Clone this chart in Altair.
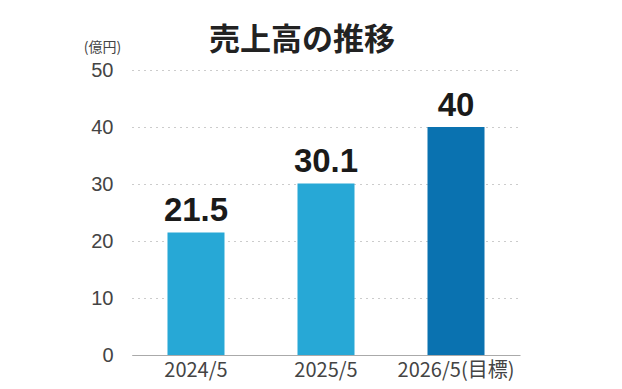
import altair as alt
import pandas as pd

periods = ["2024/5", "2025/5", "2026/5(目標)"]
sales = [21.5, 30.1, 40]
labels = ["21.5", "30.1", "40"]
kinds = ["実績", "実績", "目標"]
chart_title = ["売上高の推移"]

df = pd.DataFrame({"period": periods, "sales": sales, "label": labels, "kind": kinds})
tdf = pd.DataFrame({"t": chart_title})

x = alt.X("period:N", sort=periods, title=None,
          scale=alt.Scale(paddingInner=0.5615, paddingOuter=0.273),
          axis=alt.Axis(labelAngle=0, labelFontSize=20, labelColor="#444",
                        labelFont="Noto Sans CJK JP", labelPadding=5,
                        ticks=False, domainColor="#aaa", domainWidth=1.2))
y = alt.Y("sales:Q", title="(億円)",
          scale=alt.Scale(domain=[0, 50]),
          axis=alt.Axis(values=[0, 10, 20, 30, 40, 50], labelFontSize=20,
                        labelColor="#444", labelFont="Liberation Sans",
                        labelPadding=19, ticks=False, domain=False,
                        grid=True, gridDash=[1, 5], gridColor="#999",
                        titleAngle=0, titleAlign="center", titleBaseline="middle",
                        titleX=-30, titleY=-23,
                        titleFontSize=14, titleFontWeight="normal",
                        titleColor="#444", titleFont="Noto Sans CJK JP"))

bars = alt.Chart(df).mark_bar().encode(
    x=x, y=y,
    color=alt.Color("kind:N", scale=alt.Scale(domain=["実績", "目標"],
                                                range=["#27a8d6", "#0a72b0"]),
                    legend=None),
)

text = alt.Chart(df).mark_text(dy=-4, baseline="bottom", fontSize=33,
                               fontWeight="bold", font="Liberation Sans",
                               color="#1a1a1a").encode(
    x=alt.X("period:N", sort=periods),
    y="sales:Q",
    text="label:N",
)

title = alt.Chart(tdf).mark_text(fontSize=31, fontWeight="bold",
                                 font="Noto Sans CJK JP", color="#222",
                                 baseline="middle", align="center").encode(
    x=alt.value(170), y=alt.value(-29), text="t:N",
)

chart = (bars + text + title).properties(
    width=388, height=285,
    autosize=alt.AutoSizeParams(type="none"),
    padding={"left": 124, "top": 62, "right": 94, "bottom": 26},
).configure_view(stroke=None)

chart.save("out.html", embed_options={"renderer": "svg", "actions": False})
